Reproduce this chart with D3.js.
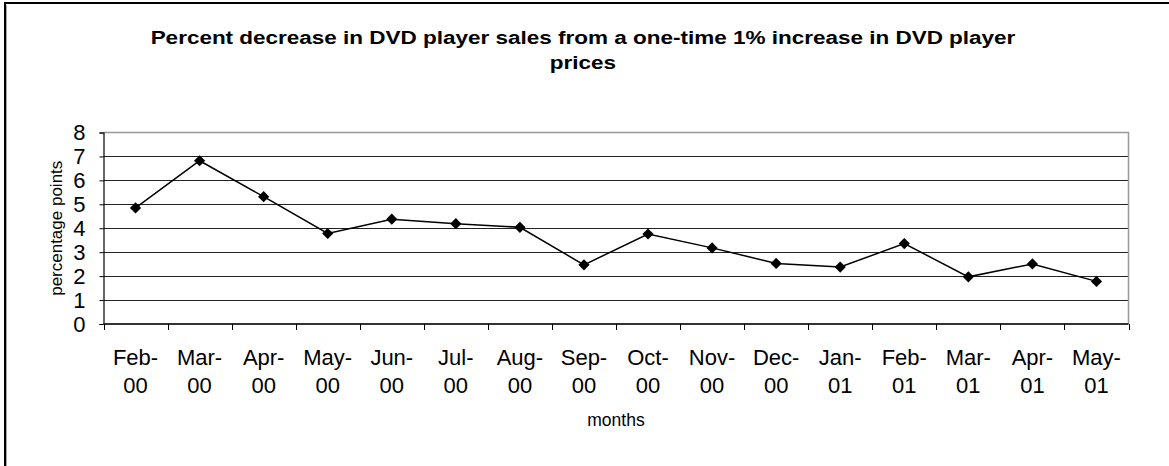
<!DOCTYPE html>
<html>
<head>
<meta charset="utf-8">
<script src="https://cdn.jsdelivr.net/npm/d3@7"></script>
<style>
  html, body { margin: 0; padding: 0; background: #fff; }
  svg { display: block; font-family: Arial, "Liberation Sans", sans-serif; }
</style>
</head>
<body>
<svg id="chart" width="1169" height="466"></svg>
<script>
// Monthly data: percent decrease in sales after a 1% price rise
const months = ["Feb-00", "Mar-00", "Apr-00", "May-00", "Jun-00", "Jul-00", "Aug-00", "Sep-00",
                "Oct-00", "Nov-00", "Dec-00", "Jan-01", "Feb-01", "Mar-01", "Apr-01", "May-01"];
const decrease = [4.85, 6.82, 5.32, 3.78, 4.38, 4.19, 4.04, 2.47,
                  3.76, 3.18, 2.53, 2.38, 3.36, 1.97, 2.51, 1.78];
const yTicks = [0, 1, 2, 3, 4, 5, 6, 7, 8];

const svg = d3.select("#chart");
const plot = { left: 103.5, right: 1128.5, top: 132.5, bottom: 324 };

// Outer frame (left and top edges)
svg.append("path")
  .attr("d", "M5,466 V3 H1169")
  .attr("fill", "none").attr("stroke", "#000").attr("stroke-width", 2);
svg.append("line").attr("x1", 6.5).attr("x2", 6.5).attr("y1", 5).attr("y2", 466)
  .attr("stroke", "#aaa").attr("stroke-width", 1);

const x = d3.scaleBand().domain(months).range([plot.left, plot.right]).padding(0);
const y = d3.scaleLinear().domain([0, 8]).range([plot.bottom, plot.top]);

// Horizontal gridlines
svg.append("g").selectAll("line")
  .data(yTicks.filter(d => d > 0 && d < 8))
  .join("line")
  .attr("x1", plot.left).attr("x2", plot.right)
  .attr("y1", d => Math.round(y(d)) + 0.5).attr("y2", d => Math.round(y(d)) + 0.5)
  .attr("stroke", "#222").attr("stroke-width", 1.2);

// Plot area frame (top & right)
svg.append("path")
  .attr("d", `M${plot.left},${plot.top} H${plot.right} V${plot.bottom}`)
  .attr("fill", "none").attr("stroke", "#999").attr("stroke-width", 1.5);

// Y axis
const yAxis = svg.append("g")
  .attr("transform", `translate(${plot.left},0)`)
  .call(d3.axisLeft(y).tickValues(yTicks).tickSize(4).tickPadding(14).tickFormat(d3.format("d")));
yAxis.select(".domain").attr("stroke", "#000").attr("stroke-width", 1.2);
yAxis.selectAll(".tick line").attr("stroke", "#000");
yAxis.selectAll("text").attr("font-size", 22).attr("fill", "#000")
  .attr("font-family", "Arial, 'Liberation Sans', sans-serif");

// X axis: ticks on category boundaries
const xAxis = svg.append("g").attr("transform", `translate(0,${plot.bottom})`);
xAxis.append("line").attr("x1", plot.left).attr("x2", plot.right)
  .attr("stroke", "#333").attr("stroke-width", 2);
const bounds = months.map(m => x(m)).concat([plot.right]);
xAxis.selectAll("line.tick").data(bounds).join("line")
  .attr("class", "tick")
  .attr("x1", d => Math.round(d) + 0.5).attr("x2", d => Math.round(d) + 0.5)
  .attr("y1", 0).attr("y2", 6)
  .attr("stroke", "#000").attr("stroke-width", 1);

// Two-line month labels
const labels = svg.append("g").selectAll("text").data(months).join("text")
  .attr("x", d => x(d) + x.bandwidth() / 2)
  .attr("text-anchor", "middle")
  .attr("font-size", 22).attr("fill", "#000");
labels.append("tspan").attr("x", d => x(d) + x.bandwidth() / 2).attr("y", 365)
  .text(d => d.split("-")[0] + "-");
labels.append("tspan").attr("x", d => x(d) + x.bandwidth() / 2).attr("y", 393)
  .text(d => d.split("-")[1]);

// Series line and diamond markers
const cx = d => x(d) + x.bandwidth() / 2;
svg.append("path")
  .datum(decrease)
  .attr("fill", "none").attr("stroke", "#000").attr("stroke-width", 1.5)
  .attr("d", d3.line().x((d, i) => cx(months[i])).y(d => y(d)));

svg.append("g").selectAll("path").data(decrease).join("path")
  .attr("transform", (d, i) => `translate(${cx(months[i])},${y(d)})`)
  .attr("d", d3.symbol().type(d3.symbolDiamond2).size(80))
  .attr("fill", "#000");

// Axis titles
svg.append("text")
  .attr("transform", `translate(62,${(plot.top + plot.bottom) / 2}) rotate(-90)`)
  .attr("text-anchor", "middle").attr("font-size", 17).attr("fill", "#000")
  .text("percentage points");

svg.append("text")
  .attr("x", 616).attr("y", 426)
  .attr("text-anchor", "middle").attr("font-size", 17.5).attr("fill", "#000")
  .text("months");

// Chart title (wide bold lettering)
const title = svg.append("g").attr("transform", "translate(583,0) scale(1.25,1)")
  .append("text")
  .attr("text-anchor", "middle").attr("font-size", 18).attr("font-weight", "bold").attr("fill", "#000");
title.append("tspan").attr("x", 0).attr("y", 44)
  .text("Percent decrease in DVD player sales from a one-time 1% increase in DVD player");
title.append("tspan").attr("x", 0).attr("y", 69).text("prices");
</script>
</body>
</html>
